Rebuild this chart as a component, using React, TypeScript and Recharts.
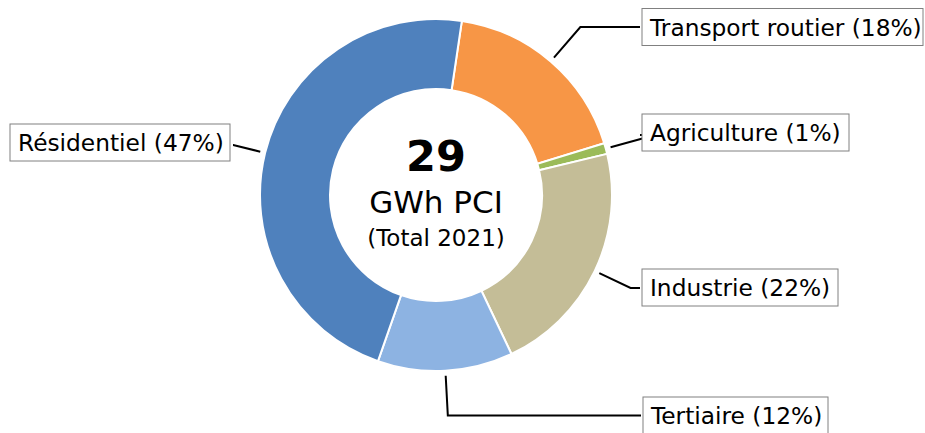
import React from "react";
import { PieChart, Pie, Cell } from "recharts";

const categories = ["Transport routier", "Agriculture", "Industrie", "Tertiaire", "Résidentiel"];
const shares = [17.9, 1.0, 21.7, 12.4, 47.0];
const shareLabels = ["18%", "1%", "22%", "12%", "47%"];
const totalValue = "29";
const totalUnit = "GWh PCI";
const totalNote = "(Total 2021)";

const colors = ["#f79646", "#9bbb59", "#c4bd97", "#8db3e2", "#4f81bd"];

// label box layout (left x, center y, width, elbow y offset) and side
const boxLayout = [
  { x: 642, cy: 27, w: 281, ey: 0, side: "right" },
  { x: 642, cy: 132.5, w: 207, ey: 2.5, side: "right" },
  { x: 642, cy: 287.5, w: 196, ey: 0.5, side: "right" },
  { x: 643, cy: 415.5, w: 185, ey: 0, side: "right" },
  { x: 10, cy: 142.5, w: 220, ey: 2.5, side: "left" },
];

const data = categories.map((name, i) => ({ name, value: shares[i], pct: shareLabels[i] }));

const FONT = "'DejaVu Sans', sans-serif";
const RAD = Math.PI / 180;

const renderLabel = (props: any) => {
  const { cx, cy, midAngle, outerRadius, index } = props;
  const lay = boxLayout[index];
  const r0 = outerRadius + 5;
  const dx = Math.cos(-midAngle * RAD);
  const dy = Math.sin(-midAngle * RAD);
  const sx = cx + r0 * dx;
  const sy = cy + r0 * dy;
  let ex = sx;
  const ey = lay.cy + lay.ey;
  if (Math.abs(dy) > 1e-6) {
    const t = (ey - cy) / dy;
    ex = cx + t * dx;
  }
  const edgeX = lay.side === "right" ? lay.x - 2 : lay.x + lay.w + 3;
  const h = 37;
  return (
    <g key={`lbl-${index}`}>
      <polyline
        points={`${sx},${sy} ${ex},${ey} ${edgeX},${ey}`}
        fill="none"
        stroke="#000"
        strokeWidth={2}
      />
      <rect x={lay.x} y={lay.cy - h / 2} width={lay.w} height={h} fill="#fff" stroke="#808080" strokeWidth={1} />
      <text
        x={lay.x + 8}
        y={lay.cy}
        dominantBaseline="central"
        fontFamily={FONT}
        fontSize={23.3}
        fill="#000"
      >
        {`${data[index].name} (${data[index].pct})`}
      </text>
    </g>
  );
};

export default function App() {
  return (
    <div style={{ position: "absolute", left: 0, top: 0, width: 925, height: 433, background: "#fff" }}>
      <PieChart width={925} height={433} margin={{ top: 0, right: 0, bottom: 0, left: 0 }}>
        <Pie
          data={data}
          dataKey="value"
          nameKey="name"
          cx={436}
          cy={195}
          innerRadius={106}
          outerRadius={176}
          startAngle={81.55}
          endAngle={81.55 - 360}
          stroke="#fff"
          strokeWidth={2}
          isAnimationActive={false}
          label={renderLabel}
          labelLine={false}
        >
          {data.map((d, i) => (
            <Cell key={d.name} fill={colors[i]} />
          ))}
        </Pie>
        <text x={436} y={156} textAnchor="middle" dominantBaseline="central" fontFamily={FONT} fontWeight="bold" fontSize={43} fill="#000">
          {totalValue}
        </text>
        <text x={436} y={202} textAnchor="middle" dominantBaseline="central" fontFamily={FONT} fontSize={31} fill="#000">
          {totalUnit}
        </text>
        <text x={436} y={238} textAnchor="middle" dominantBaseline="central" fontFamily={FONT} fontSize={23} fill="#000">
          {totalNote}
        </text>
      </PieChart>
    </div>
  );
}
